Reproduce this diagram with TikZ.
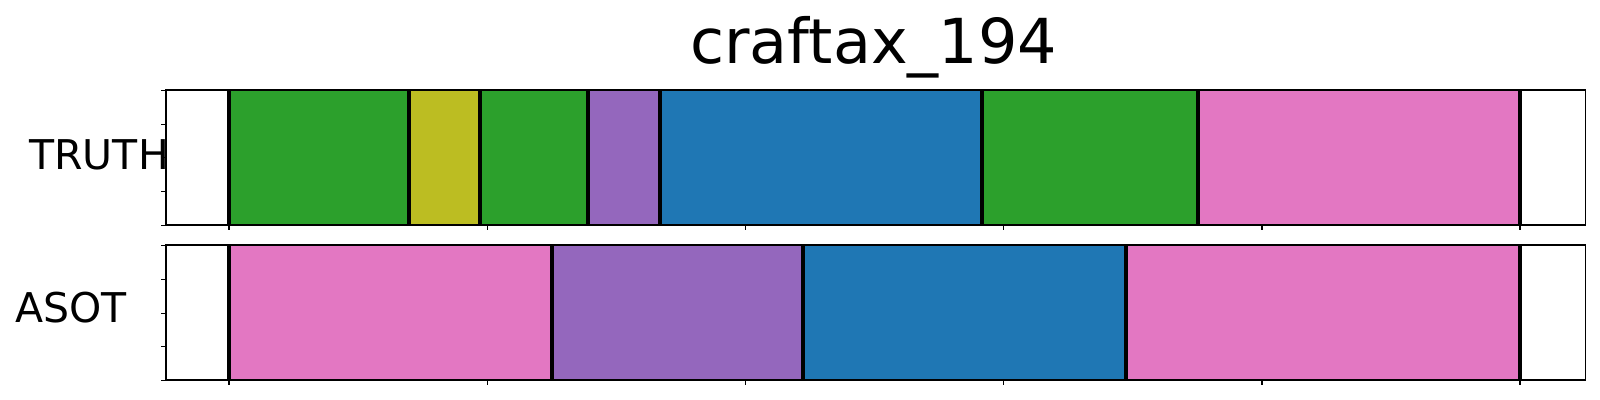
\documentclass[tikz,border=0pt]{standalone}
\usepackage{fontspec}
\setmainfont{DejaVu Sans}
\definecolor{tgreen}{HTML}{2CA02C}
\definecolor{tolive}{HTML}{BCBD22}
\definecolor{tpurple}{HTML}{9467BD}
\definecolor{tblue}{HTML}{1F77B4}
\definecolor{tpink}{HTML}{E377C2}
\tikzset{
  frame/.style={draw=black, line width=0.8pt},
  sep/.style={draw=black, line width=2.2pt},
  tickmark/.style={draw=black, line width=0.7pt},
  lbl/.style={inner sep=0pt, anchor=base west, font=\fontsize{20.5}{20.5}\selectfont},
  ttl/.style={inner sep=0pt, anchor=base west, font=\fontsize{31}{31}\selectfont}
}
\begin{document}
\begin{tikzpicture}[x=0.5pt,y=-0.5pt]
\useasboundingbox (0,0) rectangle (1600,400);
% ---- top axes: TRUTH ----
\def\ta{90.3}\def\tb{225.3}
\fill[tgreen]  (229,\ta) rectangle (409,\tb);
\fill[tolive]  (409,\ta) rectangle (480,\tb);
\fill[tgreen]  (480,\ta) rectangle (588,\tb);
\fill[tpurple] (588,\ta) rectangle (660,\tb);
\fill[tblue]   (660,\ta) rectangle (982,\tb);
\fill[tgreen]  (982,\ta) rectangle (1197.7,\tb);
\fill[tpink]   (1197.7,\ta) rectangle (1520,\tb);
\foreach \x in {229,409,480,588,660,982,1197.7,1520}
  \draw[sep] (\x,\ta) -- (\x,\tb);
\draw[frame] (165.7,\ta) rectangle (1585.3,\tb);
\foreach \y in {90.3,124.3,157.8,191.3,225.3}
  \draw[tickmark] (165.7,\y) -- (160.7,\y);
\foreach \x in {229,487.2,745.4,1003.6,1261.8,1520}
  \draw[tickmark] (\x,\tb) -- (\x,230.3);
% ---- bottom axes: ASOT ----
\def\ba{245.3}\def\bb{380.3}
\fill[tpink]   (229,\ba) rectangle (551.7,\bb);
\fill[tpurple] (551.7,\ba) rectangle (803,\bb);
\fill[tblue]   (803,\ba) rectangle (1126,\bb);
\fill[tpink]   (1126,\ba) rectangle (1520,\bb);
\foreach \x in {229,551.7,803,1126,1520}
  \draw[sep] (\x,\ba) -- (\x,\bb);
\draw[frame] (165.7,\ba) rectangle (1585.3,\bb);
\foreach \y in {245.3,279.3,313.3,346.7,380.3}
  \draw[tickmark] (165.7,\y) -- (160.7,\y);
\foreach \x in {229,487.2,745.4,1003.6,1261.8,1520}
  \draw[tickmark] (\x,\bb) -- (\x,385.3);
% ---- texts ----
\node[ttl] (title) at (690,63.3) {craftax\_194};
\node[lbl] (truth) at (29,170) {TRUTH};
\node[lbl] (asot) at (14.7,322.7) {ASOT};
\end{tikzpicture}
\end{document}
